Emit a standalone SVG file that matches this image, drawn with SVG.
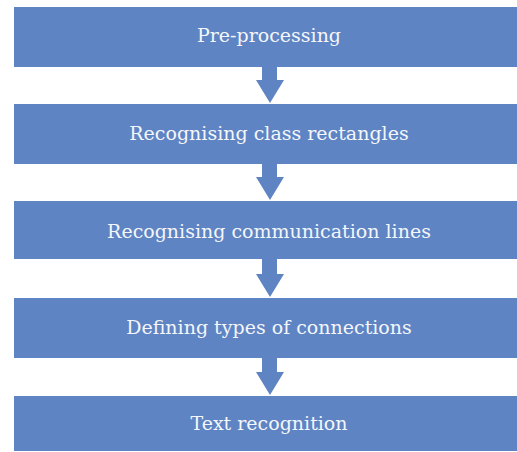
<svg xmlns="http://www.w3.org/2000/svg" width="517" height="452" viewBox="0 0 517 452">
<style>
.box{fill:#5e84c3}
.lbl{font-family:"DejaVu Serif","Liberation Serif",serif;font-size:19px;fill:#f4f6fa;text-anchor:middle}
.arr{fill:#5e84c3}
</style>
<rect width="517" height="452" fill="#ffffff"/>
<g id="connectors">
<polygon class="arr" points="262,67 277,67 277,80 284,80 270,103 256,80 262,80"/>
<polygon class="arr" points="262,164 277,164 277,177 284,177 270,200 256,177 262,177"/>
<polygon class="arr" points="262,259 277,259 277,274 284,274 270,297 256,274 262,274"/>
<polygon class="arr" points="262,358 277,358 277,372 284,372 270,395 256,372 262,372"/>
</g>
<g id="n1"><rect class="box" x="14" y="7" width="510" height="60"/><text class="lbl" x="269" y="42">Pre-processing</text></g>
<g id="n2"><rect class="box" x="14" y="104" width="510" height="60"/><text class="lbl" x="269" y="140">Recognising class rectangles</text></g>
<g id="n3"><rect class="box" x="14" y="201" width="510" height="58"/><text class="lbl" x="269" y="238">Recognising communication lines</text></g>
<g id="n4"><rect class="box" x="14" y="298" width="510" height="60"/><text class="lbl" x="269" y="334">Defining types of connections</text></g>
<g id="n5"><rect class="box" x="14" y="396" width="510" height="55"/><text class="lbl" x="269" y="430">Text recognition</text></g>
</svg>
